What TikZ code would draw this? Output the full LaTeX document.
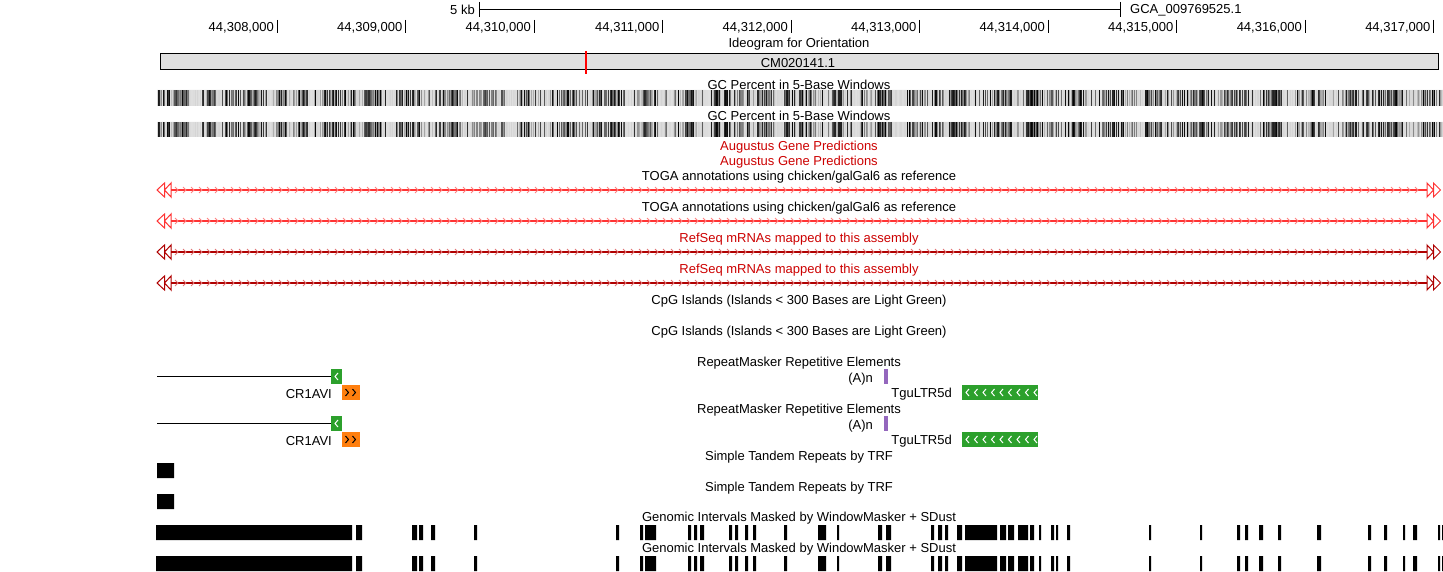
\documentclass[tikz,border=0pt]{standalone}
\usepackage{fontspec}
\setmainfont{Liberation Sans}
\definecolor{ideogray}{RGB}{224,224,224}
\definecolor{labelred}{RGB}{204,0,0}
\definecolor{togared}{RGB}{255,51,51}
\definecolor{togapink}{RGB}{255,130,130}
\definecolor{refred}{RGB}{175,0,0}
\definecolor{refpink}{RGB}{225,120,120}
\definecolor{rmgreen}{RGB}{44,160,44}
\definecolor{rmorange}{RGB}{255,127,14}
\definecolor{rmpurple}{RGB}{148,103,189}

\begin{document}
\begin{tikzpicture}[x=1pt,y=-1pt,
    every node/.style={font=\fontsize{13}{15}\selectfont, inner sep=0pt, yshift=-1.2pt},
    tracklabel/.style={anchor=center},
    redlabel/.style={tracklabel, text=labelred},
    thin line/.style={line width=1pt},
    gene line/.style={line width=1.6pt},
    ]
  \useasboundingbox (0,0) rectangle (1443,572);
  \draw[thin line] (479,2) -- (479,17) (479,9.5) -- (1120,9.5) (1120,2) -- (1120,17);
  \node[anchor=east] (scalelbl) at (475,9) {5 kb};
  \node[anchor=west] (asmlbl) at (1130,9) {GCA\_009769525.1};
  \foreach \k [evaluate=\k as \x using 277+128.5*\k, evaluate=\k as \m using int(308+\k)] in {0,...,9} {
    \draw[thin line] (\x,20) -- (\x,33);
    \node[anchor=east] (pos\k) at (\x-3,26.5) {44,\m,000};
  }
  \node[tracklabel] (ideolbl) at (799,43) {Ideogram for Orientation};
  \draw[thin line, fill=ideogray] (160,54) rectangle (1438,70);
  \draw[red, line width=2pt] (585.5,51) -- (585.5,74);
  \node[tracklabel] (chrom) at (798,62) {CM020141.1};
  \node[tracklabel] (gclbl1) at (799,84) {GC Percent in 5-Base Windows};
  \node[tracklabel] (gclbl2) at (799,115) {GC Percent in 5-Base Windows};
  \fill[ideogray] (157,90) rectangle (1443,106) (157,122) rectangle (1443,137);
  \pgfmathsetseed{4211}
  \foreach \i in {0,...,1285} {
    \pgfmathsetmacro\d{0.6+0.35*sin(mod(floor(\i/15)*137.5,360))}
    \pgfmathsetmacro\g{rnd<\d ? 25+75*rnd : 12+5*rnd}
    \fill[black!\g] (157+\i,90) rectangle +(1,16);
    \fill[black!\g] (157+\i,122) rectangle +(1,15);
  }
  \node[redlabel] (auglbl1) at (799,146) {Augustus Gene Predictions};
  \node[redlabel] (auglbl2) at (799,161) {Augustus Gene Predictions};
  \node[tracklabel] (togalbl1) at (799,176) {TOGA annotations using chicken/galGal6 as reference};
  \node[tracklabel] (togalbl2) at (799,207) {TOGA annotations using chicken/galGal6 as reference};
  \node[redlabel] (reflbl1) at (799,238) {RefSeq mRNAs mapped to this assembly};
  \node[redlabel] (reflbl2) at (799,269) {RefSeq mRNAs mapped to this assembly};
  \foreach \y/\ln/\cv in {190/togared/togapink, 221/togared/togapink, 252/refred/refpink, 283/refred/refpink} {
    \draw[gene line, \ln] (171,\y) -- (1427,\y);
    \foreach \x in {175,183,...,1419}
      \draw[thin line, \cv] (\x,\y-3) -- (\x+3,\y) -- (\x,\y+3);
    \draw[thin line, \ln] (164.5,\y-7) -- (157,\y) -- (164.5,\y+7) -- cycle
      (171,\y-7) -- (164.5,\y) -- (171,\y+7) -- cycle
      (1427,\y-7) -- (1433.5,\y) -- (1427,\y+7) -- cycle
      (1433.5,\y-7) -- (1440.5,\y) -- (1433.5,\y+7) -- cycle;
  }
  \node[tracklabel] (cpglbl1) at (799,300) {CpG Islands (Islands < 300 Bases are Light Green)};
  \node[tracklabel] (cpglbl2) at (799,331) {CpG Islands (Islands < 300 Bases are Light Green)};
  \foreach \o in {0,47} {
    \node[tracklabel] (rmlbl\o) at (799,362+\o) {RepeatMasker Repetitive Elements};
    \draw[thin line] (157,376+\o) -- (331,376+\o);
    \fill[rmgreen] (331,369+\o) rectangle (342,384+\o);
    \draw[thin line, white] (338,373+\o) -- (335,376.5+\o) -- (338,380+\o);
    \node[anchor=east] (cr\o) at (332,392.5+\o) {CR1AVI};
    \fill[rmorange] (342,385+\o) rectangle (360,400+\o);
    \foreach \x in {345.5,352.5}
      \draw[thin line] (\x,389+\o) -- (\x+3,392.5+\o) -- (\x,396+\o);
    \node[anchor=east] (polya\o) at (873,377.5+\o) {(A)n};
    \fill[rmpurple] (883.5,369+\o) rectangle (888,384+\o);
    \node[anchor=east] (ltr\o) at (952,392.5+\o) {TguLTR5d};
    \fill[rmgreen] (962,385+\o) rectangle (1038,400+\o);
    \foreach \x in {966,974.5,...,1034}
      \draw[thin line, white] (\x+3,389+\o) -- (\x,392.5+\o) -- (\x+3,396+\o);
  }
  \node[tracklabel] (trflbl1) at (799,456) {Simple Tandem Repeats by TRF};
  \node[tracklabel] (trflbl2) at (799,487) {Simple Tandem Repeats by TRF};
  \fill (157,463) rectangle (174,478) (157,494) rectangle (174,509);
  \node[tracklabel] (wmlbl1) at (799,517) {Genomic Intervals Masked by WindowMasker + SDust};
  \node[tracklabel] (wmlbl2) at (799,548) {Genomic Intervals Masked by WindowMasker + SDust};
  \foreach \a/\b in {156/352, 356/362, 412/417, 419/423, 431/435, 474/477, 616/619,
      640/643, 645/656, 688/691, 694/697, 700/704, 729/732, 735/738, 745/748, 753/756,
      784/787, 818/826, 837/839, 878/882, 886/891, 931/934, 938/942, 945/948, 957/962,
      965/997, 1000/1006, 1008/1014, 1018/1028, 1030/1034, 1039/1041, 1051/1054,
      1056/1058, 1067/1070, 1149/1151, 1200/1202, 1237/1240, 1245/1248, 1259/1263,
      1278/1281, 1317/1321, 1368/1371, 1384/1387, 1403/1405, 1413/1417, 1438/1440,
      1442/1443}
    \fill (\a,525) rectangle (\b,540) (\a,556) rectangle (\b,571);
\end{tikzpicture}
\end{document}
